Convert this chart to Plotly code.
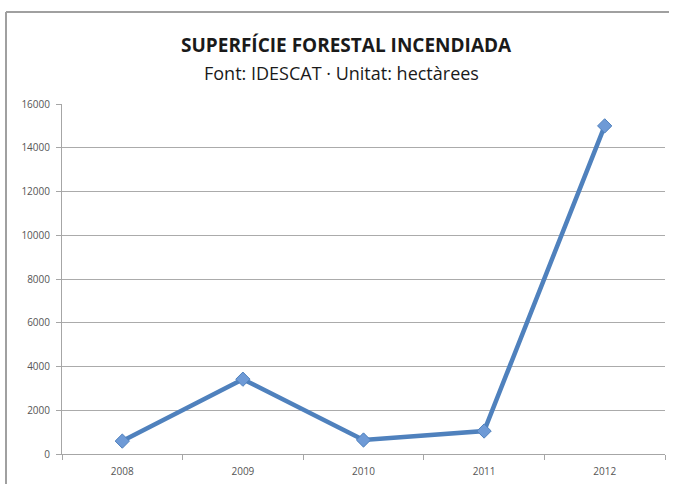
import plotly.graph_objects as go

years = ["2008", "2009", "2010", "2011", "2012"]
hectares = [590, 3420, 640, 1050, 15000]
y_ticks = [0, 2000, 4000, 6000, 8000, 10000, 12000, 14000, 16000]

title_text = "SUPERFÍCIE FORESTAL INCENDIADA"
subtitle_text = "Font: IDESCAT · Unitat: hectàrees"

W, H = 669, 484
L, R, T, B = 62, 4, 104, 30
pw, ph = W - L - R, H - T - B

def px(x):
    return (x - L) / pw

def py(y):
    return (H - B - y) / ph

fig = go.Figure()
fig.add_trace(go.Scatter(
    x=years, y=hectares, mode="lines+markers",
    line=dict(color="#4F81BD", width=4.5),
    marker=dict(symbol="diamond", size=11, color="#6E9AD6",
                line=dict(color="#4F81BD", width=1)),
    showlegend=False, hoverinfo="x+y",
))

fig.update_layout(
    width=W, height=H,
    margin=dict(l=L, r=R, t=T, b=B, autoexpand=False),
    paper_bgcolor="white", plot_bgcolor="white",
    font=dict(family="Open Sans, Lato, sans-serif", color="#444"),
    xaxis=dict(
        type="category", range=[-0.5, 4.5], automargin=False,
        showgrid=False, showline=True, linecolor="#A6A6A6", linewidth=1,
        ticks="outside", tickson="boundaries", ticklen=5, tickcolor="#A6A6A6",
        tickfont=dict(size=10, color="#555"), ticklabelstandoff=8,
        zeroline=False,
    ),
    yaxis=dict(
        range=[0, 16000], tickvals=y_ticks, ticktext=[str(v) for v in y_ticks],
        automargin=False,
        showgrid=True, gridcolor="#ABABAB", gridwidth=1,
        showline=True, linecolor="#A6A6A6", linewidth=1,
        ticks="outside", ticklen=5, tickcolor="#A6A6A6",
        tickfont=dict(size=10, color="#555"), ticklabelstandoff=4,
        zeroline=False,
    ),
    annotations=[
        dict(text="<b>" + title_text + "</b>", xref="paper", yref="paper",
             x=px(346), y=py(45), xanchor="center", yanchor="middle",
             showarrow=False, font=dict(size=19, color="#1a1a1a",
                                        family="Open Sans, Lato, sans-serif")),
        dict(text=subtitle_text, xref="paper", yref="paper",
             x=px(341), y=py(73), xanchor="center", yanchor="middle",
             showarrow=False, font=dict(size=18, color="#1a1a1a",
                                        family="Open Sans, Lato, sans-serif")),
    ],
    shapes=[
        dict(type="line", xref="paper", yref="paper",
             x0=px(6), x1=px(W), y0=py(12), y1=py(12),
             line=dict(color="#A0A0A0", width=2)),
        dict(type="line", xref="paper", yref="paper",
             x0=px(6), x1=px(6), y0=py(12), y1=py(H),
             line=dict(color="#A0A0A0", width=2)),
    ],
)

fig.write_html(
    "out.html", config={"displayModeBar": False},
    post_script=("document.documentElement.style.overflow='hidden';"
                 "document.body.style.margin='0';"
                 "document.body.style.overflow='hidden';"),
)
